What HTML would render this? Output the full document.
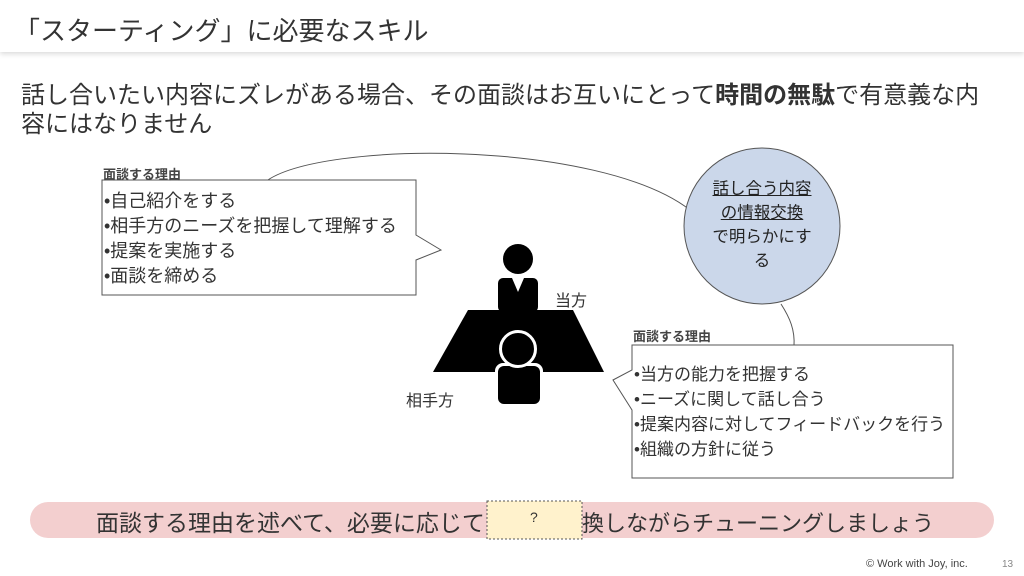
<!DOCTYPE html>
<html><head><meta charset="utf-8"><style>
body{margin:0;width:1024px;height:576px;background:#fff;position:relative;overflow:hidden;font-family:"Liberation Sans","Noto Sans CJK JP",sans-serif;color:#333}
.hdr{position:absolute;left:0;top:0;width:1024px;height:52px;background:#fff;box-shadow:0 2px 5px rgba(0,0,0,0.15)}
.t{position:absolute;white-space:nowrap}
</style></head><body>
<div class="hdr"></div>
<div class="t" style="left:14px;top:11px;font-size:26px;color:#333">「スターティング」に必要なスキル</div>
<div class="t" style="left:21px;top:81px;font-size:24px;line-height:29px;color:#333">話し合いたい内容にズレがある場合、その面談はお互いにとって<b>時間の無駄</b>で有意義な内<br>容にはなりません</div>
<svg width="1024" height="576" style="position:absolute;left:0;top:0">
<path d="M265,182 C320,140 600,140 690,210" fill="none" stroke="#555" stroke-width="1"/>
<path d="M781,304 C790,318 795,330 794,346" fill="none" stroke="#555" stroke-width="1"/>
<path d="M102,180 H416 V235 L441,250 L416,260 V295 H102 Z" fill="#fff" stroke="#555" stroke-width="1"/>
<path d="M632,345 H953 V478 H632 V410 L613,380 L632,370 Z" fill="#fff" stroke="#555" stroke-width="1"/>
<circle cx="762" cy="226" r="78" fill="#cbd7ea" stroke="#555" stroke-width="1"/>
<circle cx="518" cy="259" r="15" fill="#000"/>
<rect x="498" y="278" width="40" height="34" rx="5" fill="#000"/>
<polygon points="512,278 524,278 518,292" fill="#fff"/>
<polygon points="468,310 573,310 604,372 433,372" fill="#000"/>
<rect x="495" y="363" width="48" height="42" rx="8" fill="#fff"/>
<rect x="498" y="366" width="42" height="38" rx="6" fill="#000"/>
<rect x="30" y="502" width="964" height="36" rx="18" fill="#f3cfcf"/>
<rect x="487" y="501" width="95" height="38" fill="#fff2cc" stroke="#555" stroke-dasharray="2,2"/>
</svg>
<div style="position:absolute;left:499px;top:330px;width:32px;height:32px;border-radius:50%;background:#000;border:3px solid #fff"></div>
<div class="t" style="left:103px;top:164px;font-size:13px;font-weight:bold;color:#444">面談する理由</div>
<div class="t" style="left:104px;top:189px;font-size:18px;line-height:25px">•自己紹介をする<br>•相手方のニーズを把握して理解する<br>•提案を実施する<br>•面談を締める</div>
<div class="t" style="left:633px;top:326px;font-size:13px;font-weight:bold;color:#444">面談する理由</div>
<div class="t" style="left:634px;top:362px;font-size:17px;line-height:25px">•当方の能力を把握する<br>•ニーズに関して話し合う<br>•提案内容に対してフィードバックを行う<br>•組織の方針に従う</div>
<div class="t" style="left:698px;top:177px;width:128px;text-align:center;font-size:16.5px;line-height:24px;white-space:normal;color:#222"><u>話し合う内容<br>の情報交換</u><br>で明らかにす<br>る</div>
<div class="t" style="left:555px;top:287px;font-size:16px">当方</div>
<div class="t" style="left:406px;top:387px;font-size:16px">相手方</div>
<div class="t" style="left:96px;top:504px;font-size:23px;color:#333">面談する理由を述べて、必要に応じて</div>
<div class="t" style="left:582px;top:506px;font-size:22px;color:#333">換しながらチューニングしましょう</div>
<div class="t" style="left:530px;top:509px;font-size:14px">?</div>
<div class="t" style="left:866px;top:558px;font-size:11px;color:#444">© Work with Joy, inc.</div>
<div class="t" style="left:1002px;top:559px;font-size:10px;color:#888">13</div>
</body></html>
